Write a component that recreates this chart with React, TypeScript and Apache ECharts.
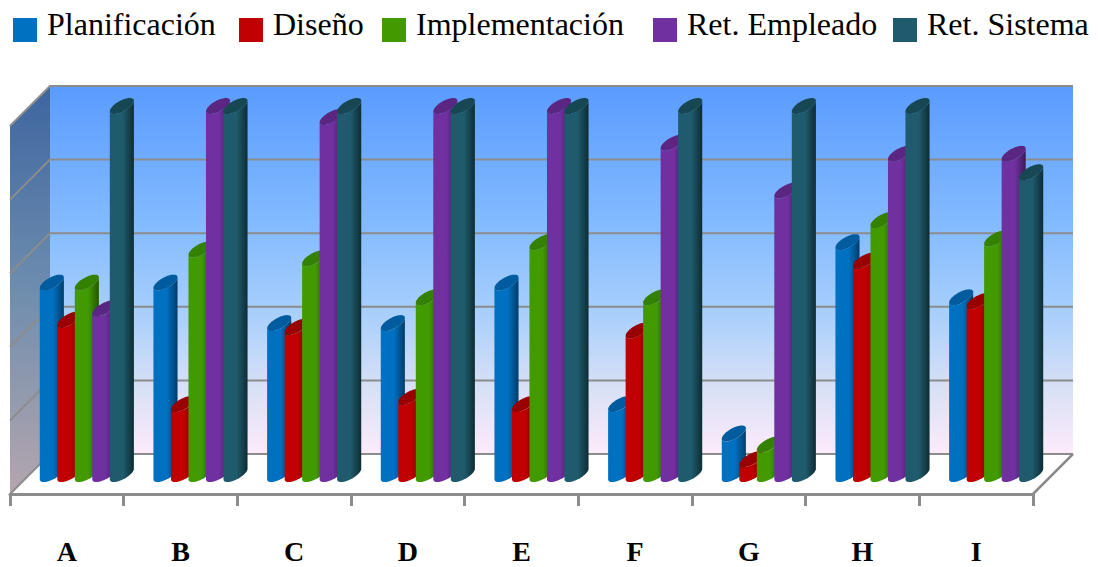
import React, { useEffect, useRef } from "react";
import * as echarts from "echarts";

const categories = ["A", "B", "C", "D", "E", "F", "G", "H", "I"];
const yTicks = [0, 1, 2, 3, 4, 5];
const planificacion = [2.6, 2.6, 2.05, 2.05, 2.6, 0.95, 0.55, 3.15, 2.4];
const diseno = [2.1, 0.95, 2.0, 1.05, 0.95, 1.95, 0.2, 2.9, 2.35];
const implementacion = [2.6, 3.05, 2.93, 2.4, 3.15, 2.4, 0.4, 3.45, 3.2];
const retEmpleado = [2.25, 5, 4.85, 5, 5, 4.5, 3.85, 4.35, 4.35];
const retSistema = [5, 5, 5, 5, 5, 5, 5, 5, 4.1];
const seriesNames = ["Planificación", "Diseño", "Implementación", "Ret. Empleado", "Ret. Sistema"];
const seriesValues = [planificacion, diseno, implementacion, retEmpleado, retSistema];
const seriesColors = ["#0070C0", "#C00000", "#419B00", "#7030A0", "#1F5B6C"];
const capColors = ["#005C9E", "#990000", "#348000", "#5A2682", "#174752"];
const edgeColors = ["#003C68", "#6A0000", "#235600", "#3C1A58", "#0D2C34"];
const legendLeft = [13, 239, 382, 653, 893];

const DEPTH = 40;
const GRID = "#8C8C8C";

function ellipsePoint(cx: number, cy: number, t: number, r: number, k: number) {
  return [cx + r * Math.cos(t) + k * Math.sin(t), cy - k * Math.sin(t)];
}

function renderWalls(params: any, api: any) {
  const cs = params.coordSys;
  const tick = api.value(0);
  const y = api.coord([0, tick])[1];
  const x0 = cs.x;
  const x1 = cs.x + cs.width;
  const yb = cs.y + cs.height;
  const children: any[] = [];
  if (tick === 0) {
    const top = cs.y;
    children.push({
      type: "polygon",
      shape: { points: [[x0 + DEPTH, top - DEPTH], [x1 + DEPTH, top - DEPTH], [x1 + DEPTH, yb - DEPTH], [x0 + DEPTH, yb - DEPTH]] },
      style: {
        fill: new echarts.graphic.LinearGradient(0, 0, 0, 1, [
          { offset: 0, color: "#5A9BFF" },
          { offset: 0.4, color: "#86BDFF" },
          { offset: 0.62, color: "#A9CFFC" },
          { offset: 0.82, color: "#D8E0F6" },
          { offset: 1, color: "#FDEBFA" },
        ]),
      },
    });
    children.push({
      type: "polygon",
      shape: { points: [[x0, top], [x0 + DEPTH, top - DEPTH], [x0 + DEPTH, yb - DEPTH], [x0, yb]] },
      style: {
        fill: new echarts.graphic.LinearGradient(0, 0, 0, 1, [
          { offset: 0, color: "#3D659F" },
          { offset: 0.5, color: "#6E8DAE" },
          { offset: 1, color: "#B5A6AE" },
        ]),
      },
    });
    children.push({
      type: "polyline",
      shape: { points: [[x1, yb], [x1 + DEPTH, yb - DEPTH]] },
      style: { stroke: GRID, lineWidth: 2.5, fill: "none" },
    });
  }
  children.push({
    type: "polyline",
    shape: { points: [[x0, y], [x0 + DEPTH, y - DEPTH], [x1 + DEPTH, y - DEPTH]] },
    style: { stroke: GRID, lineWidth: 2, fill: "none" },
  });
  return { type: "group", children };
}

function makeColumnRender(si: number) {
  return (params: any, api: any) => {
    const cat = api.value(0);
    const val = api.value(1);
    const front = api.coord([cat, val]);
    const base = api.coord([cat, 0]);
    const slot = api.size([1, 0])[0] * 0.154;
    const cx = front[0] + DEPTH / 2 + (si - 2) * slot;
    const cyTop = front[1] - DEPTH / 2;
    const cyBase = base[1] - DEPTH / 2;
    const r = 9;
    const k = 8;
    const tLeft = Math.PI + Math.atan2(k, r);
    const pts: number[][] = [];
    const capPts: number[][] = [];
    const steps = 28;
    for (let i = 0; i <= steps; i++) {
      const t = tLeft + (i / steps) * Math.PI;
      pts.push(ellipsePoint(cx, cyBase, t, r, k));
    }
    for (let i = 0; i <= steps; i++) {
      const t = tLeft + Math.PI - (i / steps) * Math.PI;
      pts.push(ellipsePoint(cx, cyTop, t, r, k));
    }
    for (let i = 0; i < steps * 2; i++) {
      capPts.push(ellipsePoint(cx, cyTop, (i / (steps * 2)) * Math.PI * 2, r, k));
    }
    return {
      type: "group",
      children: [
        {
          type: "polygon",
          shape: { points: pts },
          style: {
            fill: new echarts.graphic.LinearGradient(0, 0, 1, 0, [
              { offset: 0, color: seriesColors[si] },
              { offset: 0.55, color: seriesColors[si] },
              { offset: 1, color: edgeColors[si] },
            ]),
          },
        },
        {
          type: "polygon",
          shape: { points: capPts },
          style: { fill: capColors[si] },
        },
      ],
    };
  };
}

export default function App() {
  const ref = useRef<HTMLDivElement>(null);
  useEffect(() => {
    document.body.style.margin = "0";
    const chart = echarts.init(ref.current!, undefined, { renderer: "svg" });
    chart.setOption({
      animation: false,
      backgroundColor: "#FFFFFF",
      legend: seriesNames.map((n, i) => ({
        data: [n],
        left: legendLeft[i],
        top: 8,
        icon: "rect",
        itemWidth: 24,
        itemHeight: 24,
        selectedMode: false,
        padding: 0,
        formatter: (name: string) => `{t|${name}}`,
        textStyle: {
          fontFamily: "Liberation Serif",
          fontSize: 32,
          color: "#000",
          rich: {
            t: {
              fontFamily: "Liberation Serif",
              fontSize: 32,
              color: "#000",
              padding: [0, 0, 12, 5],
            },
          },
        },
      })),
      grid: { left: 10, right: 67, top: 126, bottom: 73, outerBoundsMode: "none" },
      xAxis: {
        type: "category",
        data: categories,
        axisLine: { show: true, lineStyle: { color: GRID, width: 3 } },
        axisTick: { show: true, length: 12, lineStyle: { color: GRID, width: 3 } },
        axisLabel: {
          margin: 43,
          fontFamily: "Liberation Serif",
          fontWeight: "bold",
          fontSize: 28,
          color: "#000",
        },
        splitLine: { show: false },
        z: 5,
      },
      yAxis: {
        type: "value",
        min: 0,
        max: 5,
        interval: 1,
        axisLabel: { show: false },
        axisLine: { show: false },
        axisTick: { show: false },
        splitLine: { show: false },
      },
      series: [
        {
          type: "custom",
          name: "walls",
          silent: true,
          z: 1,
          clip: false,
          renderItem: renderWalls,
          encode: { y: 0 },
          data: yTicks.map((t) => [t]),
        },
        ...seriesNames.map((n, si) => ({
          type: "custom",
          name: n,
          z: 2 + si,
          clip: false,
          itemStyle: { color: seriesColors[si] },
          renderItem: makeColumnRender(si),
          encode: { x: 0, y: 1 },
          data: seriesValues[si].map((v, c) => [c, v]),
        })),
      ],
    });
    return () => chart.dispose();
  }, []);
  return <div ref={ref} style={{ position: "fixed", left: 0, top: 0, width: 1100, height: 567 }} />;
}
